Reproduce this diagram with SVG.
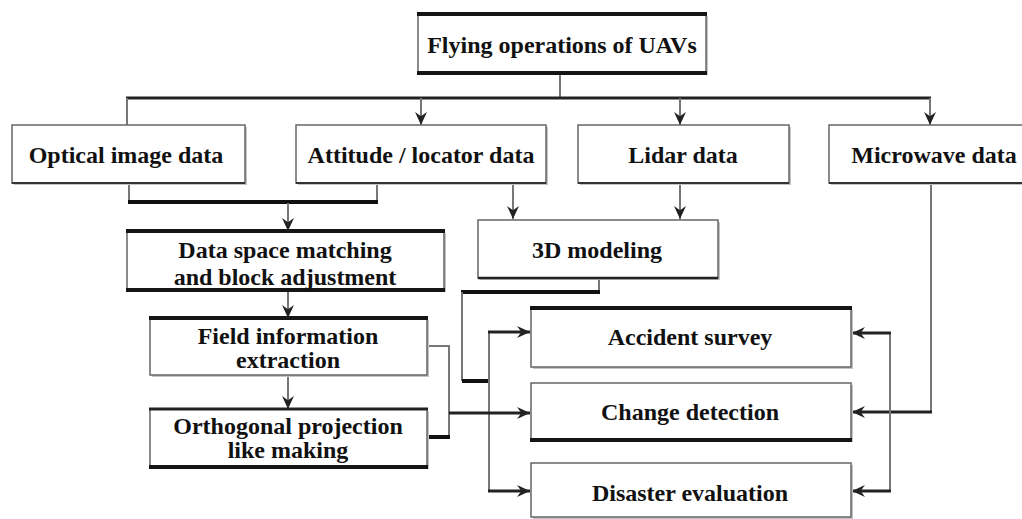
<svg xmlns="http://www.w3.org/2000/svg" width="1022" height="519" viewBox="0 0 1022 519">
<defs>
<marker id="arr" viewBox="0 0 12 12" refX="12" refY="6" markerWidth="13" markerHeight="13" markerUnits="userSpaceOnUse" orient="auto">
<path d="M0,0.5 L12,6 L0,11.5 L4,6 z" fill="#222"/>
</marker>
</defs>
<style>
.box{fill:#fff;stroke:#666;stroke-width:1.5}
.sh{fill:#c4c4c4}
.thick{stroke:#151515;stroke-width:4;fill:none}
.t{font-family:"Liberation Serif","Times New Roman",serif;font-weight:bold;font-size:24px;fill:#111;text-anchor:middle}
.c{fill:none;stroke:#777;stroke-width:2}
.cd{fill:none;stroke:#222;stroke-width:3}
.ct{fill:none;stroke:#111;stroke-width:4}
</style>
<rect width="1022" height="519" fill="#fff"/>

<g id="connectors">
<line class="c" x1="560" y1="73" x2="560" y2="98"/>
<line class="cd" x1="126" y1="98" x2="931" y2="98"/>
<line class="c" x1="127" y1="98" x2="127" y2="125"/>
<line class="c" x1="421" y1="98" x2="421" y2="125" marker-end="url(#arr)"/>
<line class="c" x1="680" y1="98" x2="680" y2="125" marker-end="url(#arr)"/>
<line class="c" x1="930" y1="98" x2="930" y2="125" marker-end="url(#arr)"/>
<polyline class="c" points="129,183 129,202"/>
<polyline class="c" points="377,183 377,202"/>
<line class="ct" x1="128" y1="202" x2="378" y2="202"/>
<line class="c" x1="288" y1="203" x2="288" y2="231" marker-end="url(#arr)"/>
<line class="c" x1="513" y1="183" x2="513" y2="219" marker-end="url(#arr)"/>
<line class="c" x1="680" y1="183" x2="680" y2="219" marker-end="url(#arr)"/>
<line class="c" x1="288" y1="290" x2="288" y2="318" marker-end="url(#arr)"/>
<line class="c" x1="288" y1="375" x2="288" y2="409" marker-end="url(#arr)"/>
<line class="c" x1="599" y1="278" x2="599" y2="292"/>
<line class="ct" x1="461" y1="292" x2="600" y2="292"/>
<polyline class="c" points="462,292 462,381"/>
<line class="ct" x1="462" y1="381" x2="489" y2="381"/>
<line class="c" x1="489" y1="332" x2="489" y2="491"/>
<line class="cd" x1="488" y1="332" x2="530" y2="332" marker-end="url(#arr)"/>
<line class="cd" x1="488" y1="491" x2="530" y2="491" marker-end="url(#arr)"/>
<polyline class="c" points="427,346 449,346 449,437"/>
<line class="ct" x1="427" y1="437" x2="450" y2="437"/>
<line class="cd" x1="449" y1="413" x2="530" y2="413" marker-end="url(#arr)"/>
<polyline class="c" points="931,183 931,412"/>
<line class="cd" x1="932" y1="412" x2="852" y2="412" marker-end="url(#arr)"/>
<polyline class="c" points="890,333 890,491"/>
<line class="cd" x1="891" y1="333" x2="852" y2="333" marker-end="url(#arr)"/>
<line class="cd" x1="891" y1="491" x2="852" y2="491" marker-end="url(#arr)"/>
</g>

<g id="n-top">
<rect class="sh" x="420" y="16" width="288" height="59"/>
<rect class="box" x="418" y="14" width="288" height="59"/>
<line class="thick" x1="417" y1="14" x2="707" y2="14"/>
<line class="thick" x1="417" y1="73" x2="707" y2="73"/>
<text class="t" x="562" y="53">Flying operations of UAVs</text>
</g>

<g id="n-optical">
<rect class="sh" x="14" y="127" width="233" height="58"/>
<rect class="box" x="12" y="125" width="233" height="58"/>
<line stroke="#333" stroke-width="2" x1="12" y1="183" x2="245" y2="183"/>
<text class="t" x="126" y="163">Optical image data</text>
</g>

<g id="n-attitude">
<rect class="sh" x="298" y="127" width="250" height="58"/>
<rect class="box" x="296" y="125" width="250" height="58"/>
<line stroke="#333" stroke-width="2" x1="296" y1="183" x2="546" y2="183"/>
<text class="t" x="421" y="163">Attitude / locator data</text>
</g>

<g id="n-lidar">
<rect class="sh" x="580" y="127" width="211" height="58"/>
<rect class="box" x="578" y="125" width="211" height="58"/>
<line stroke="#333" stroke-width="2" x1="578" y1="183" x2="789" y2="183"/>
<text class="t" x="683" y="163">Lidar data</text>
</g>

<g id="n-microwave">
<rect class="sh" x="831" y="127" width="200" height="58"/>
<rect class="box" x="829" y="125" width="200" height="58"/>
<line stroke="#333" stroke-width="2" x1="829" y1="183" x2="1022" y2="183"/>
<text class="t" x="934" y="163">Microwave data</text>
</g>

<g id="n-dataspace">
<rect class="sh" x="129" y="233" width="317" height="59"/>
<rect class="box" x="127" y="231" width="317" height="59"/>
<line class="thick" x1="126" y1="231" x2="445" y2="231"/>
<line class="thick" x1="126" y1="290" x2="445" y2="290"/>
<text class="t" x="285" y="258">Data space matching</text>
<text class="t" x="285" y="285">and block adjustment</text>
</g>

<g id="n-3d">
<rect class="sh" x="480" y="222" width="240" height="58"/>
<rect class="box" x="478" y="220" width="240" height="58"/>
<line stroke="#222" stroke-width="2.5" x1="478" y1="278" x2="718" y2="278"/>
<text class="t" x="597" y="258">3D modeling</text>
</g>

<g id="n-field">
<rect class="sh" x="152" y="320" width="277" height="57"/>
<rect class="box" x="150" y="318" width="277" height="57"/>
<line class="thick" x1="149" y1="318" x2="428" y2="318"/>
<text class="t" x="288" y="344">Field information</text>
<text class="t" x="288" y="368">extraction</text>
</g>

<g id="n-ortho">
<rect class="sh" x="152" y="411" width="277" height="58"/>
<rect class="box" x="150" y="409" width="277" height="58"/>
<line stroke="#222" stroke-width="3" x1="149" y1="409" x2="428" y2="409"/>
<line class="thick" x1="149" y1="467" x2="428" y2="467"/>
<text class="t" x="288" y="434">Orthogonal projection</text>
<text class="t" x="288" y="458">like making</text>
</g>

<g id="n-accident">
<rect class="sh" x="533" y="310" width="320" height="59"/>
<rect class="box" x="531" y="308" width="320" height="59"/>
<line class="thick" x1="530" y1="308" x2="852" y2="308"/>
<text class="t" x="690" y="345">Accident survey</text>
</g>

<g id="n-change">
<rect class="sh" x="533" y="385" width="320" height="57"/>
<rect class="box" x="531" y="383" width="320" height="57"/>
<line class="thick" x1="530" y1="440" x2="852" y2="440"/>
<text class="t" x="690" y="420">Change detection</text>
</g>

<g id="n-disaster">
<rect class="sh" x="533" y="465" width="320" height="56"/>
<rect class="box" x="531" y="463" width="320" height="54"/>
<text class="t" x="690" y="501">Disaster evaluation</text>
</g>
</svg>
